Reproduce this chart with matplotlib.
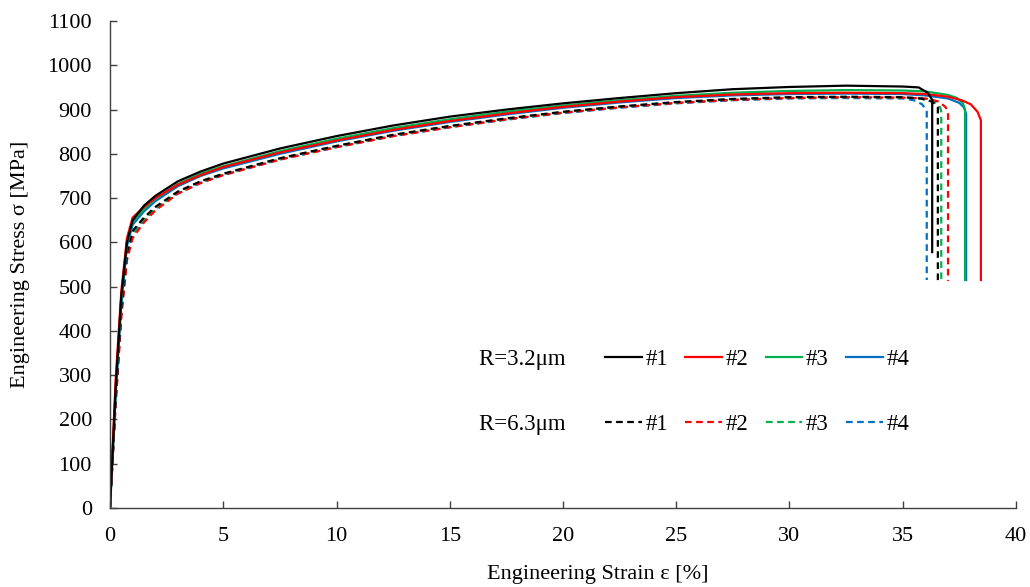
import matplotlib
matplotlib.use("Agg")
import matplotlib.pyplot as plt
from matplotlib.lines import Line2D

plt.rcParams["font.family"] = ["Liberation Serif", "DejaVu Serif"]

# strain [%] shared by the hardening part of every curve
strain_common = [0, 0.25, 0.5, 0.75, 1.0, 1.5, 2, 3, 4, 5, 7.5, 10, 12.5,
                 15, 17.5, 20, 22.5, 25, 27.5, 30, 32.5, 35]

# R=3.2um specimens (solid)
s1_stress = [0, 270, 480, 600, 650, 683, 705, 738, 760, 778, 812, 840, 864,
             884, 900, 914, 926, 937, 946, 951, 954, 952]
s1_tail_strain = [35.7, 36.1, 36.3, 36.3]
s1_tail_stress = [950, 938, 922, 578]

s2_stress = [0, 290, 490, 610, 656, 680, 700, 730, 752, 770, 803, 830, 854,
             874, 891, 906, 918, 928, 934, 937, 938, 937]
s2_tail_strain = [36.0, 37.0, 37.6, 38.0, 38.3, 38.45, 38.45]
s2_tail_stress = [935, 929, 921, 912, 895, 876, 515]

s3_stress = [0, 275, 478, 602, 646, 676, 698, 732, 755, 772, 806, 834, 858,
             878, 895, 909, 921, 931, 938, 942, 944, 943]
s3_tail_strain = [36.0, 37.0, 37.4, 37.65, 37.75, 37.75]
s3_tail_stress = [941, 933, 926, 915, 900, 515]

s4_stress = [0, 255, 462, 592, 640, 670, 693, 727, 750, 767, 800, 828, 852,
             872, 889, 904, 916, 926, 932, 935, 936, 935]
s4_tail_strain = [36.0, 37.0, 37.5, 37.7, 37.8, 37.8]
s4_tail_stress = [932, 925, 915, 905, 890, 515]

# R=6.3um specimens (dashed)
d1_stress = [0, 250, 452, 578, 626, 656, 680, 715, 738, 755, 790, 818, 843,
             863, 880, 895, 907, 917, 924, 928, 929, 928]
d1_tail_strain = [35.8, 36.3, 36.55, 36.55]
d1_tail_stress = [925, 918, 905, 513]

d2_stress = [0, 232, 432, 560, 610, 645, 672, 710, 734, 752, 787, 815, 840,
             860, 878, 893, 905, 915, 922, 926, 928, 927]
d2_tail_strain = [36.0, 36.6, 36.9, 37.0, 37.0]
d2_tail_stress = [925, 918, 905, 890, 513]

d3_stress = [0, 246, 446, 572, 622, 652, 677, 713, 737, 754, 789, 817, 842,
             862, 879, 894, 906, 916, 923, 927, 928, 927]
d3_tail_strain = [35.8, 36.4, 36.65, 36.7, 36.7]
d3_tail_stress = [925, 917, 905, 895, 513]

d4_stress = [0, 240, 440, 568, 618, 650, 675, 711, 735, 752, 787, 815, 840,
             860, 877, 892, 904, 914, 921, 925, 926, 925]
d4_tail_strain = [35.5, 35.85, 36.0, 36.06, 36.06]
d4_tail_stress = [921, 912, 902, 895, 515]

colors = ["black", "#FF0000", "#00B050", "#0070C0"]
labels = ["#1", "#2", "#3", "#4"]
groups = ["R=3.2μm    ", "R=6.3μm    "]

solid = [(s1_stress, s1_tail_strain, s1_tail_stress),
         (s2_stress, s2_tail_strain, s2_tail_stress),
         (s3_stress, s3_tail_strain, s3_tail_stress),
         (s4_stress, s4_tail_strain, s4_tail_stress)]
dashed = [(d1_stress, d1_tail_strain, d1_tail_stress),
          (d2_stress, d2_tail_strain, d2_tail_stress),
          (d3_stress, d3_tail_strain, d3_tail_stress),
          (d4_stress, d4_tail_strain, d4_tail_stress)]

fig = plt.figure(figsize=(10.3, 5.87), dpi=100)
ax = fig.add_axes([0.1068, 0.1346, 0.8796, 0.8296])

lw = 1.6
dash = (0, (3, 2))
for (stress, ts, tst), c in zip(dashed[::-1], colors[::-1]):
    ax.plot(strain_common + ts, stress + tst, color=c, lw=lw, linestyle=dash)
for (stress, ts, tst), c in zip(solid[::-1], colors[::-1]):
    ax.plot(strain_common + ts, stress + tst, color=c, lw=lw)

ax.set_xlim(0, 40)
ax.set_ylim(0, 1100)
ax.set_xticks(range(0, 41, 5))
ax.set_yticks(range(0, 1101, 100))
ax.spines[["top", "right"]].set_visible(False)
for s in ["left", "bottom"]:
    ax.spines[s].set_color("#404040")
    ax.spines[s].set_linewidth(1.0)
ax.tick_params(direction="in", length=5, width=1.0, color="#404040",
               labelsize=16)
ax.tick_params(axis="y", pad=13)
ax.tick_params(axis="x", pad=14)

ax.set_xlabel("Engineering Strain ε [%]", fontsize=16, ha="left", va="top")
ax.xaxis.set_label_coords(0.416, -0.118)
ax.set_ylabel("Engineering Stress σ [MPa]", fontsize=16)
ax.yaxis.set_label_coords(-0.088, 0.5)

# legend laid out as two rows: group label then four specimens
blank = Line2D([], [], color="none")
handles = [blank, blank]
leg_labels = list(groups)
for c, l in zip(colors, labels):
    handles += [Line2D([], [], color=c, lw=lw),
                Line2D([], [], color=c, lw=lw, linestyle=dash)]
    leg_labels += [l, l]
fig.legend(handles, leg_labels, ncol=5, frameon=False, fontsize=16.5,
           loc="upper left", bbox_to_anchor=(438 / 1030, 1 - 349 / 587),
           bbox_transform=fig.transFigure, borderpad=0, borderaxespad=0,
           handlelength=1.6, handletextpad=0.17, columnspacing=0.74,
           labelspacing=1.9)

fig.savefig("out.png", dpi=100)
